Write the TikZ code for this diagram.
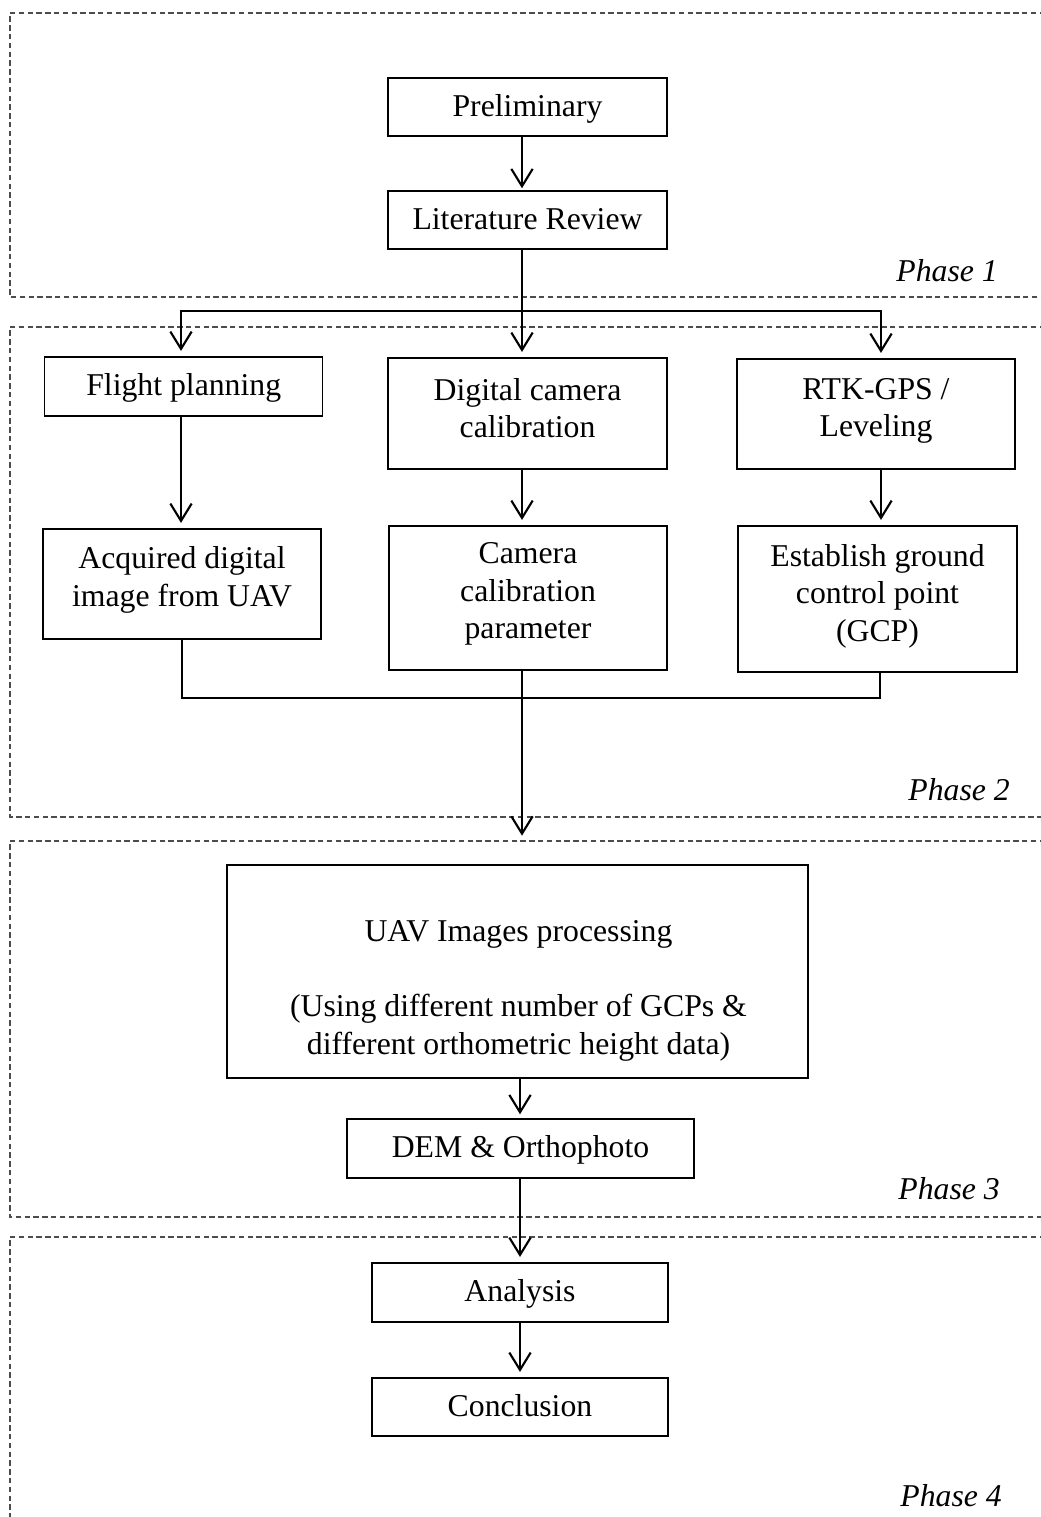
\documentclass[tikz,border=0pt]{standalone}
\usepackage{fontspec}
\setmainfont{Liberation Serif}
\usetikzlibrary{arrows.meta,calc}
\begin{document}
\begin{tikzpicture}[x=0.75pt,y=-0.75pt,
  mainfont/.style={font=\fontsize{23.8}{28.1}\selectfont},
  box/.style={draw=black, line width=1.1pt, rectangle, inner sep=0pt, mainfont, text height=16.5pt, text depth=3pt},
  frame/.style={draw=black, line width=1.1pt, rectangle, inner sep=0pt},
  txt/.style={align=center, inner sep=0pt, mainfont},
  phase/.style={anchor=east, inner sep=0pt, font=\fontsize{23.8}{28.1}\selectfont\itshape},
  conn/.style={line width=1.5pt},
  arr/.style={line width=1.5pt, shorten >=4pt, -{Straight Barb[length=13pt,width=16pt,line width=1.6pt]}},
  phasebox/.style={draw=black!70, line width=0.8pt, dash pattern=on 4pt off 2.6pt}
]
\useasboundingbox (0,0) rectangle (1041,1517);

% phase frames (open on the right)
\draw[phasebox] (1045,13) -- (10,13) -- (10,297) -- (1045,297);
\draw[phasebox] (1045,327) -- (10,327) -- (10,817) -- (1045,817);
\draw[phasebox] (1045,841) -- (10,841) -- (10,1217) -- (1045,1217);
\draw[phasebox] (1045,1237) -- (10,1237) -- (10,1525);

% column coordinates
\coordinate (c1) at (181,0);
\coordinate (c2) at (522,0);
\coordinate (c3) at (881,0);
\coordinate (c1b) at (182,0);
\coordinate (c3b) at (880,0);
\coordinate (c4) at (520,0);
\coordinate (split) at (522,310.5);
\coordinate (m) at (522,698);
\coordinate (p2out) at (522,841);

% Phase 1
\node[box, minimum width=209.25pt, minimum height=43.5pt] (pre) at (527.5,107) {Preliminary};
\node[box, minimum width=209.25pt, minimum height=43.5pt] (lr) at (527.5,220) {Literature Review};

% Phase 2 top row
\node[box, minimum width=208.5pt, minimum height=44.25pt] (fp) at (183.7,386.5) {Flight planning};
\node[frame, minimum width=209.25pt, minimum height=83.25pt] (dcc) at (527.5,413.5) {};
\node[txt] (dcct) at (527.5,408) {Digital camera\\calibration};
\node[frame, minimum width=208.5pt, minimum height=82.5pt] (rtk) at (876,414) {};
\node[txt] (rtkt) at (876,411) {RTK-GPS /\\Leveling};

% Phase 2 second row
\node[frame, minimum width=208.5pt, minimum height=82.5pt] (acq) at (182,584) {};
\node[txt] (acqt) at (182,580) {Acquired digital\\image from UAV};
\node[frame, minimum width=208.5pt, minimum height=108pt] (ccp) at (528,598) {};
\node[txt] (ccpt) at (528,594) {Camera\\calibration\\parameter};
\node[frame, minimum width=209.25pt, minimum height=109.5pt] (est) at (877.5,599) {};
\node[txt] (estt) at (877.5,596) {Establish ground\\control point\\(GCP)};

% Phase 3
\node[frame, minimum width=435.75pt, minimum height=159.75pt] (uav) at (517.5,971.5) {};
\node[txt] (uavt) at (518.5,991) {UAV Images processing\\[28.1pt](Using different number of GCPs \&\\different orthometric height data)};
\node[box, minimum width=260.25pt, minimum height=44.25pt] (dem) at (520.5,1148.5) {DEM \& Orthophoto};

% Phase 4
\node[box, minimum width=222pt, minimum height=44.25pt] (ana) at (520,1292.5) {Analysis};
\node[box, minimum width=222pt, minimum height=43.5pt] (con) at (520,1407) {Conclusion};

% phase labels
\node[phase] (ph1) at (998,271) {Phase 1};
\node[phase] (ph2) at (1010,790) {Phase 2};
\node[phase] (ph3) at (1000,1189) {Phase 3};
\node[phase] (ph4) at (1002,1496) {Phase 4};

% connectors
\draw[arr, shorten >=1.5pt] (pre.south -| c2) -- (lr.north -| c2);
\draw[conn] (lr.south -| c2) -- (split);
\draw[arr] (split) -- (dcc.north -| c2);
\draw[arr] (split) -| (fp.north -| c1);
\draw[arr] (split) -| (rtk.north -| c3);
\draw[arr] (fp.south -| c1) -- (acq.north -| c1);
\draw[arr] (dcc.south -| c2) -- (ccp.north -| c2);
\draw[arr] (rtk.south -| c3) -- (est.north -| c3);
\draw[conn] (acq.south -| c1b) |- (m) -| (est.south -| c3b);
\draw[arr] (ccp.south -| c2) -- (p2out);
\draw[arr, shorten >=3pt] (uav.south -| c4) -- (dem.north -| c4);
\draw[arr] (dem.south -| c4) -- (ana.north -| c4);
\draw[arr] (ana.south -| c4) -- (con.north -| c4);
\end{tikzpicture}
\end{document}
